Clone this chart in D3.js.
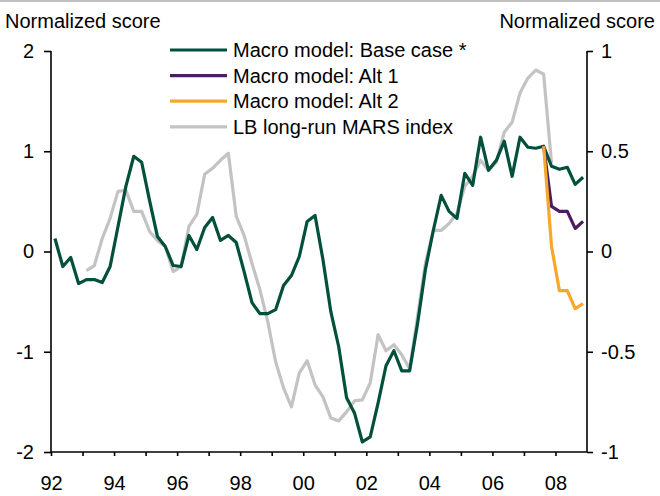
<!DOCTYPE html>
<html>
<head>
<meta charset="utf-8">
<script src="https://cdn.jsdelivr.net/npm/d3@7/dist/d3.min.js"></script>
<style>
  html, body { margin: 0; padding: 0; background: #fff; }
  svg { display: block; font-family: "Liberation Sans", Arial, sans-serif; }
</style>
</head>
<body>
<svg id="chart" width="660" height="496"></svg>
<script>
// ---- Data (quarterly, first value = first quarter of start year) ----
const baseStart = 1992;   // 1992Q1
const baseCase = [0.13, -0.15, -0.06, -0.32,
  -0.28, -0.28, -0.31, -0.15,
  0.25, 0.65, 0.95, 0.89,
  0.51, 0.15, 0.05, -0.14,
  -0.15, 0.16, 0.02, 0.24,
  0.34, 0.11, 0.16, 0.09,
  -0.20, -0.51, -0.62, -0.62,
  -0.58, -0.34, -0.24, -0.05,
  0.30, 0.36, -0.08, -0.60,
  -0.95, -1.46, -1.61, -1.90,
  -1.85, -1.51, -1.14, -0.99,
  -1.19, -1.19, -0.72, -0.18,
  0.21, 0.56, 0.40, 0.33,
  0.78, 0.66, 1.14, 0.81,
  0.91, 1.10, 0.75, 1.14,
  1.04, 1.03, 1.05, 0.85,
  0.82, 0.84, 0.67, 0.74];

const altStart = 2007.5;  // 2007Q3
const alt1 = [1.05, 0.45, 0.40, 0.40, 0.23, 0.30];
const alt2 = [1.05, 0.05, -0.39, -0.39, -0.57, -0.52];

const marsStart = 1993;   // 1993Q1, right axis
const mars = [-0.095, -0.07, 0.065, 0.165,
  0.30, 0.305, 0.20, 0.20,
  0.10, 0.055, 0.025, -0.10,
  -0.075, 0.125, 0.185, 0.385,
  0.415, 0.455, 0.49, 0.175,
  0.08, -0.06, -0.19, -0.35,
  -0.55, -0.68, -0.775, -0.605,
  -0.545, -0.665, -0.725, -0.83,
  -0.845, -0.80, -0.745, -0.74,
  -0.655, -0.415, -0.495, -0.465,
  -0.515, -0.585, -0.325, -0.06,
  0.105, 0.105, 0.14, 0.19,
  0.325, 0.375, 0.455, 0.405,
  0.445, 0.595, 0.645, 0.79,
  0.865, 0.905, 0.885, 0.44];

const xTickYears = d3.range(1992, 2009);
const xLabelYears = [1992, 1994, 1996, 1998, 2000, 2002, 2004, 2006, 2008];
const leftTicks = [2, 1, 0, -1, -2];
const leftLabels = ["2", "1", "0", "-1", "-2"];
const rightTicks = [1, 0.5, 0, -0.5, -1];
const rightLabels = ["1", "0.5", "0", "-0.5", "-1"];
const seriesNames = ["Macro model: Base case *", "Macro model: Alt 1", "Macro model: Alt 2", "LB long-run MARS index"];
const seriesColors = ["#00503c", "#4b1f5e", "#f7a82a", "#c3c3c3"];

// ---- Scales ----
const svg = d3.select("#chart");
const x = d3.scaleLinear().domain([1992, 2009]).range([51, 587]);
const yL = d3.scaleLinear().domain([-2, 2]).range([452, 51]);
const yR = d3.scaleLinear().domain([-1, 1]).range([452, 51]);

// top border
svg.append("rect").attr("x", 0).attr("y", 0).attr("width", 660).attr("height", 2).attr("fill", "#c0c0c0");

const toPts = (arr, start) => arr.map((v, i) => ({ t: start + (i + 0.5) / 4, v }));

const lineL = d3.line().x(d => x(d.t)).y(d => yL(d.v));
const lineR = d3.line().x(d => x(d.t)).y(d => yR(d.v));

const g = svg.append("g");
g.append("path").datum(toPts(mars, marsStart)).attr("d", lineR)
  .attr("fill", "none").attr("stroke", seriesColors[3]).attr("stroke-width", 3.2).attr("stroke-linejoin", "round");
g.append("path").datum(toPts(baseCase, baseStart)).attr("d", lineL)
  .attr("fill", "none").attr("stroke", seriesColors[0]).attr("stroke-width", 3.2).attr("stroke-linejoin", "round");
g.append("path").datum(toPts(alt1, altStart)).attr("d", lineL)
  .attr("fill", "none").attr("stroke", seriesColors[1]).attr("stroke-width", 3.2).attr("stroke-linejoin", "round");
g.append("path").datum(toPts(alt2, altStart)).attr("d", lineL)
  .attr("fill", "none").attr("stroke", seriesColors[2]).attr("stroke-width", 3.2).attr("stroke-linejoin", "round");

// ---- Axes ----
const fontSize = 20;
const xAxis = d3.axisBottom(x).tickValues(xTickYears).tickSize(4).tickPadding(20)
  .tickFormat(d => xLabelYears.includes(d) ? String(d).slice(2) : "");
const gx = svg.append("g").attr("transform", "translate(0,452)").call(xAxis);
gx.select(".domain").attr("d", "M51,0H587");

const gl = svg.append("g").attr("transform", "translate(51,0)")
  .call(d3.axisLeft(yL).tickValues(leftTicks).tickSize(7).tickPadding(10)
    .tickFormat((d, i) => leftLabels[i]));
const gr = svg.append("g").attr("transform", "translate(587,0)")
  .call(d3.axisRight(yR).tickValues(rightTicks).tickSize(6).tickPadding(8)
    .tickFormat((d, i) => rightLabels[i]));

[gx, gl, gr].forEach(a => {
  a.selectAll(".domain").attr("stroke", "#000").attr("stroke-width", 1.6);
  a.selectAll(".tick line").attr("stroke", "#000").attr("stroke-width", 1.6);
  a.selectAll("text").attr("font-size", fontSize).attr("font-family", "Liberation Sans, Arial, sans-serif").attr("fill", "#000");
});
gl.select(".domain").attr("d", "M0,51V452");
gr.select(".domain").attr("d", "M0,51V452");

// ---- Axis titles ----
svg.append("text").attr("x", 5).attr("y", 28).attr("font-size", fontSize).text("Normalized score");
svg.append("text").attr("x", 655).attr("y", 28).attr("text-anchor", "end").attr("font-size", fontSize).text("Normalized score");

// ---- Legend ----
const leg = svg.append("g");
seriesNames.forEach((name, i) => {
  const yy = 50 + i * 25.6;
  leg.append("line").attr("x1", 170).attr("x2", 227).attr("y1", yy).attr("y2", yy)
    .attr("stroke", seriesColors[i]).attr("stroke-width", 3.2);
  leg.append("text").attr("x", 233).attr("y", yy + 7).attr("font-size", fontSize).text(name);
});
</script>
</body>
</html>
